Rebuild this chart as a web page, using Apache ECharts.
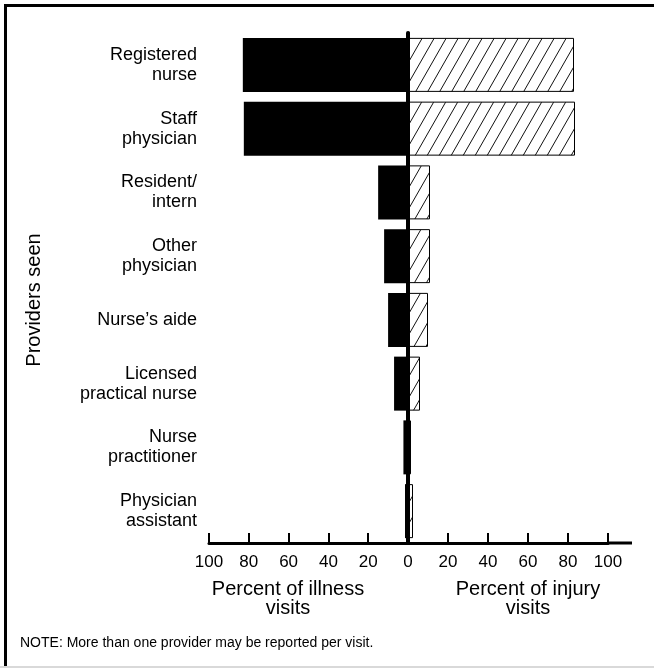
<!DOCTYPE html>
<html>
<head>
<meta charset="utf-8">
<script src="https://cdn.jsdelivr.net/npm/echarts@6/dist/echarts.min.js"></script>
<style>html,body{margin:0;padding:0;background:#fff}#c{width:654px;height:668px}</style>
</head>
<body>
<div id="c"></div>
<script>
const categories = ['Registered\nnurse','Staff\nphysician','Resident/\nintern','Other\nphysician',"Nurse\u2019s aide",'Licensed\npractical nurse','Nurse\npractitioner','Physician\nassistant'];
const illnessValues = [83, 82.5, 15, 12, 10, 7, 2.3, 1.5];
const injuryValues = [83, 83.5, 11, 11, 10, 6, 1.5, 2.5];
const leftTickLabels = ['100','80','60','40','20','0'];
const rightTickLabels = ['20','40','60','80','100'];

const FONT = "'Liberation Sans', Arial, Helvetica, sans-serif";

function hatch(){
  const w = 12, h = 21;
  const c = document.createElement('canvas');
  c.width = w; c.height = h;
  const g = c.getContext('2d');
  g.fillStyle = '#fff'; g.fillRect(0,0,w,h);
  g.strokeStyle = '#111'; g.lineWidth = 1;
  for (const dx of [-w, 0, w]) {
    g.beginPath(); g.moveTo(dx, h); g.lineTo(dx + w, 0); g.stroke();
  }
  return c;
}

const chart = echarts.init(document.getElementById('c'), null, {renderer:'canvas'});
const axisLineStyle = {color:'#000', width:3};
chart.setOption({
  animation:false,
  backgroundColor:'#fff',
  grid:[
    {left:209, width:199, top:33, height:510},
    {left:408, width:200, top:33, height:510}
  ],
  xAxis:[
    {gridIndex:0, type:'value', inverse:true, min:0, max:100, interval:20,
     axisLine:{show:true, lineStyle:axisLineStyle},
     axisTick:{show:true, inside:true, length:10, lineStyle:{color:'#000', width:2}},
     splitLine:{show:false},
     axisLabel:{color:'#000', fontSize:17, fontFamily:FONT, margin:11,
       formatter:v=>leftTickLabels[5 - Math.round(v/20)]}},
    {gridIndex:1, type:'value', min:0, max:100, interval:20,
     axisLine:{show:true, lineStyle:axisLineStyle},
     axisTick:{show:true, inside:true, length:10, lineStyle:{color:'#000', width:2}},
     splitLine:{show:false},
     axisLabel:{color:'#000', fontSize:17, fontFamily:FONT, margin:11, showMinLabel:false,
       formatter:v=> v===0 ? '' : rightTickLabels[Math.round(v/20)-1]}}
  ],
  yAxis:[
    {gridIndex:0, type:'category', data:categories, inverse:true, position:'left',
     axisLine:{show:true, lineStyle:axisLineStyle},
     axisTick:{show:false},
     axisLabel:{color:'#000', fontSize:18, fontFamily:FONT, margin:12, lineHeight:20, align:'right'}},
    {gridIndex:1, type:'category', data:categories, inverse:true, position:'left', z:5,
     axisLine:{show:true, lineStyle:{color:'#000', width:4}},
     axisTick:{show:false}, axisLabel:{show:false}}
  ],
  series:[
    {type:'bar', xAxisIndex:0, yAxisIndex:0, data:illnessValues, barWidth:54,
     itemStyle:{color:'#000'}},
    {type:'bar', xAxisIndex:1, yAxisIndex:1, data:injuryValues, barWidth:54,
     itemStyle:{color:{image:hatch(), repeat:'repeat'}, borderColor:'#000', borderWidth:1}}
  ],
  graphic:[
    {type:'rect', shape:{x:4, y:4, width:660, height:3}, style:{fill:'#000'}},
    {type:'rect', shape:{x:4, y:4, width:3, height:670}, style:{fill:'#000'}},
    {type:'rect', shape:{x:0, y:666, width:654, height:2}, style:{fill:'#d9d9d9'}},
    {type:'rect', shape:{x:607, y:541.5, width:25, height:3}, style:{fill:'#000'}},
    {type:'text', x:288, y:580, style:{text:'Percent of illness\nvisits', fontSize:20, fontFamily:FONT, fill:'#000', textAlign:'center', textVerticalAlign:'top', lineHeight:19}},
    {type:'text', x:528, y:580, style:{text:'Percent of injury\nvisits', fontSize:20, fontFamily:FONT, fill:'#000', textAlign:'center', textVerticalAlign:'top', lineHeight:19}},
    {type:'text', x:34, y:300, rotation:Math.PI/2, style:{text:'Providers seen', fontSize:20, fontFamily:FONT, fill:'#000', textAlign:'center', textVerticalAlign:'middle'}},
    {type:'text', x:20, y:643, style:{text:'NOTE: More than one provider may be reported per visit.', fontSize:14, fontFamily:FONT, fill:'#000', textAlign:'left', textVerticalAlign:'middle'}}
  ]
});
</script>
</body>
</html>
